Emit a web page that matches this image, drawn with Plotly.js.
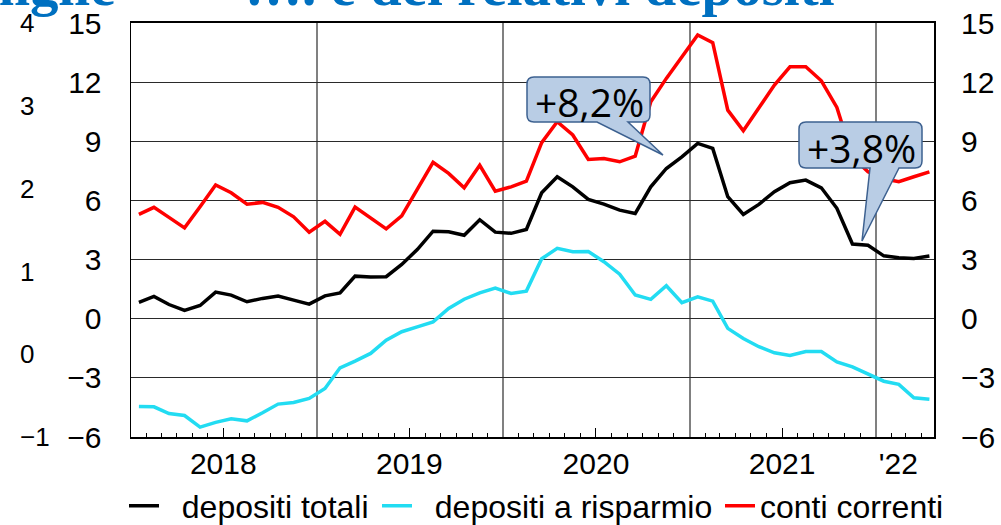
<!DOCTYPE html>
<html><head><meta charset="utf-8">
<script src="https://cdn.plot.ly/plotly-3.0.1.min.js"></script>
<style>html,body{margin:0;padding:0;background:#fff}</style>
</head><body><div id="chart" style="width:1001px;height:525px"></div>
<script>
// ---- data ----
const months = [
  "2018-01","2018-02","2018-03","2018-04","2018-05","2018-06","2018-07","2018-08","2018-09","2018-10","2018-11","2018-12",
  "2019-01","2019-02","2019-03","2019-04","2019-05","2019-06","2019-07","2019-08","2019-09","2019-10","2019-11","2019-12",
  "2020-01","2020-02","2020-03","2020-04","2020-05","2020-06","2020-07","2020-08","2020-09","2020-10","2020-11","2020-12",
  "2021-01","2021-02","2021-03","2021-04","2021-05","2021-06","2021-07","2021-08","2021-09","2021-10","2021-11","2021-12",
  "2022-01","2022-02","2022-03","2022-04"
];
const depositiTotali = [
  0.83,1.13,0.72,0.42,0.67,1.35,1.20,0.86,1.03,1.15,0.94,0.74,
  1.16,1.31,2.16,2.11,2.13,2.75,3.51,4.44,4.41,4.23,5.02,4.39,
  4.33,4.53,6.39,7.20,6.69,6.05,5.81,5.51,5.34,6.69,7.62,8.21,
  8.89,8.64,6.19,5.29,5.80,6.44,6.90,7.03,6.64,5.60,3.79,3.73,
  3.19,3.09,3.06,3.18
];
const depositiRisparmio = [
  -4.45,-4.47,-4.81,-4.91,-5.50,-5.26,-5.08,-5.18,-4.77,-4.33,-4.25,-4.04,
  -3.54,-2.49,-2.15,-1.76,-1.09,-0.66,-0.41,-0.16,0.52,0.99,1.31,1.55,
  1.28,1.40,3.04,3.57,3.40,3.41,2.89,2.26,1.20,0.98,1.67,0.81,
  1.11,0.89,-0.49,-1.00,-1.42,-1.73,-1.86,-1.66,-1.66,-2.19,-2.44,-2.78,
  -3.17,-3.33,-4.01,-4.08
];
const contiCorrenti = [
  5.29,5.65,5.14,4.61,5.68,6.78,6.39,5.81,5.90,5.65,5.17,4.39,
  4.94,4.28,5.66,5.10,4.56,5.22,6.57,7.93,7.37,6.64,7.78,6.47,
  6.69,6.98,8.93,9.99,9.32,8.08,8.13,7.96,8.25,11.0,12.19,13.28,
  14.39,14.0,10.58,9.53,10.72,11.85,12.78,12.78,12.07,10.72,8.2,7.45,
  7.1,6.95,7.2,7.45
];
const seriesNames = ["\u00a0\u00a0depositi totali", "\u00a0\u00a0depositi a risparmio", "conti correnti"];
const yearLabels = ["2018", "2019", "2020", "2021", "'22"];
const yearLabelPos = ["2018-07-01", "2019-07-01", "2020-07-01", "2021-07-01", "2022-02-14"];
const midYearTicks = ["2018-07-01", "2019-07-01", "2020-07-01", "2021-07-01"];
const outerTicks = [-1, 0, 1, 2, 3, 4];
const calloutTexts = ["+8,2%", "+3,8%"];

// ---- geometry (pixels) ----
const W = 1001, H = 525, T = 23, B = 437, L = 131, R = 934;
const xr = ['2018-01-01', '2022-04-25'];
const px = x => x / W;
const py = y => (B - y) / (B - T);

function calloutPath(c) {
  const r = 7;
  const P = (x, y) => px(x).toFixed(5) + ',' + py(y).toFixed(5);
  return 'M' + P(c.x0 + r, c.y0) +
    ' L' + P(c.x1 - r, c.y0) +
    ' Q' + P(c.x1, c.y0) + ' ' + P(c.x1, c.y0 + r) +
    ' L' + P(c.x1, c.y1 - r) +
    ' Q' + P(c.x1, c.y1) + ' ' + P(c.x1 - r, c.y1) +
    ' L' + P(c.tb2, c.y1) +
    ' L' + P(c.tx, c.ty) +
    ' L' + P(c.tb1, c.y1) +
    ' L' + P(c.x0 + r, c.y1) +
    ' Q' + P(c.x0, c.y1) + ' ' + P(c.x0, c.y1 - r) +
    ' L' + P(c.x0, c.y0 + r) +
    ' Q' + P(c.x0, c.y0) + ' ' + P(c.x0 + r, c.y0) + ' Z';
}
const callouts = [
  {x0: 527, y0: 77, x1: 650, y1: 122, tb1: 597, tb2: 628, tx: 663, ty: 155, cx: 589, cy: 102},
  {x0: 799, y0: 122, x1: 922, y1: 168, tb1: 870, tb2: 899, tx: 862, ty: 241, cx: 861, cy: 147}
];

const lineW = 3.5;
const traces = [
  {x: months, y: depositiTotali, name: seriesNames[0], type: 'scatter', mode: 'lines',
   xperiod: 'M1', xperiodalignment: 'middle', line: {color: '#000000', width: lineW}, legend: 'legend'},
  {x: months, y: depositiRisparmio, name: seriesNames[1], type: 'scatter', mode: 'lines',
   xperiod: 'M1', xperiodalignment: 'middle', line: {color: '#22DCF2', width: lineW}, legend: 'legend2'},
  {x: months, y: contiCorrenti, name: seriesNames[2], type: 'scatter', mode: 'lines',
   xperiod: 'M1', xperiodalignment: 'middle', line: {color: '#FF0000', width: lineW}, legend: 'legend3'},
  {x: [], y: [], xaxis: 'x2', yaxis: 'y', showlegend: false, hoverinfo: 'skip'},
  {x: [], y: [], xaxis: 'x3', yaxis: 'y', showlegend: false, hoverinfo: 'skip'},
  {x: [], y: [], xaxis: 'x', yaxis: 'y2', showlegend: false, hoverinfo: 'skip'},
  {x: [], y: [], xaxis: 'x', yaxis: 'y3', showlegend: false, hoverinfo: 'skip'}
];

const legendBase = {orientation: 'h', yref: 'container', xref: 'container', yanchor: 'middle', xanchor: 'left',
  y: (H - 506) / H, bgcolor: 'rgba(0,0,0,0)', borderwidth: 0, font: {size: 32, color: '#000'}};

const layout = {
  width: W, height: H,
  margin: {l: 0, r: 0, t: T, b: H - B, pad: 0, autoexpand: false},
  paper_bgcolor: '#ffffff', plot_bgcolor: '#ffffff',
  font: {family: '"Liberation Sans", Arial, sans-serif', color: '#000', size: 30},
  showlegend: true,
  legend: Object.assign({}, legendBase, {x: px(124)}),
  legend2: Object.assign({}, legendBase, {x: px(377)}),
  legend3: Object.assign({}, legendBase, {x: px(720)}),
  xaxis: {type: 'date', domain: [px(L), px(R)], range: xr, tickmode: 'linear', tick0: '2018-01-01', dtick: 'M12',
    showticklabels: false, ticks: '', showgrid: true, gridcolor: '#808080', gridwidth: 1.5,
    showline: true, linecolor: '#000', linewidth: 2, mirror: true, zeroline: false,
    minor: {dtick: 'M1', tick0: '2018-01-01', ticks: 'inside', ticklen: 4, tickwidth: 1, tickcolor: '#000', showgrid: false}},
  xaxis2: {type: 'date', overlaying: 'x', anchor: 'y', side: 'bottom', range: xr, tickmode: 'array', tickvals: midYearTicks,
    ticks: 'inside', ticklen: 9, tickwidth: 1, tickcolor: '#000', showticklabels: false, showgrid: false, showline: false, zeroline: false},
  xaxis3: {type: 'date', overlaying: 'x', anchor: 'y', side: 'bottom', range: xr, tickmode: 'array', tickvals: yearLabelPos,
    ticktext: yearLabels, ticks: '', showgrid: false, showline: false, zeroline: false, tickfont: {size: 30}, ticklabelstandoff: 6},
  yaxis: {range: [-6, 15], tickmode: 'linear', tick0: -6, dtick: 3, showgrid: true, gridcolor: '#2a2a2a', gridwidth: 1,
    showline: true, linecolor: '#000', linewidth: 1.5, mirror: true, zeroline: false, ticks: '',
    ticklabelstandoff: 22, tickfont: {size: 30}},
  yaxis2: {overlaying: 'y', side: 'right', anchor: 'x', range: [-6, 15], tickmode: 'linear', tick0: -6, dtick: 3,
    showgrid: false, showline: false, zeroline: false, ticks: '', ticklabelstandoff: 26, tickfont: {size: 30}},
  yaxis3: {overlaying: 'y', side: 'right', anchor: 'free', position: px(19), range: [-1, 4], tickmode: 'array',
    tickvals: outerTicks, showgrid: false, showline: false, zeroline: false, ticks: '', tickfont: {size: 26}},
  shapes: callouts.map(c => ({type: 'path', xref: 'paper', yref: 'paper', path: calloutPath(c),
    fillcolor: '#B9CDE5', line: {color: '#3D6190', width: 1.5}, layer: 'above'})),
  annotations: callouts.map((c, i) => ({xref: 'paper', yref: 'paper', x: px(c.cx), y: py(c.cy),
    text: calloutTexts[i], showarrow: false, xanchor: 'center', yanchor: 'middle',
    font: {family: '"Open Sans", sans-serif', size: 39, color: '#000'}})).concat([
    {xref: 'paper', yref: 'paper', x: px(117), y: 1, xanchor: 'right', yanchor: 'bottom', yshift: 4,
     text: 'Prestiti alle famiglie', showarrow: false,
     font: {family: '"Liberation Serif", serif', size: 57, color: '#0070C0', weight: 'bold'}},
    {xref: 'paper', yref: 'paper', x: px(243), y: 1, xanchor: 'left', yanchor: 'bottom', yshift: 4,
     text: '…. e dei relativi depositi', showarrow: false,
     font: {family: '"Liberation Serif", serif', size: 57, color: '#0070C0', weight: 'bold'}}
  ])
};

Plotly.newPlot('chart', traces, layout, {displayModeBar: false, staticPlot: true});
</script>
</body></html>
